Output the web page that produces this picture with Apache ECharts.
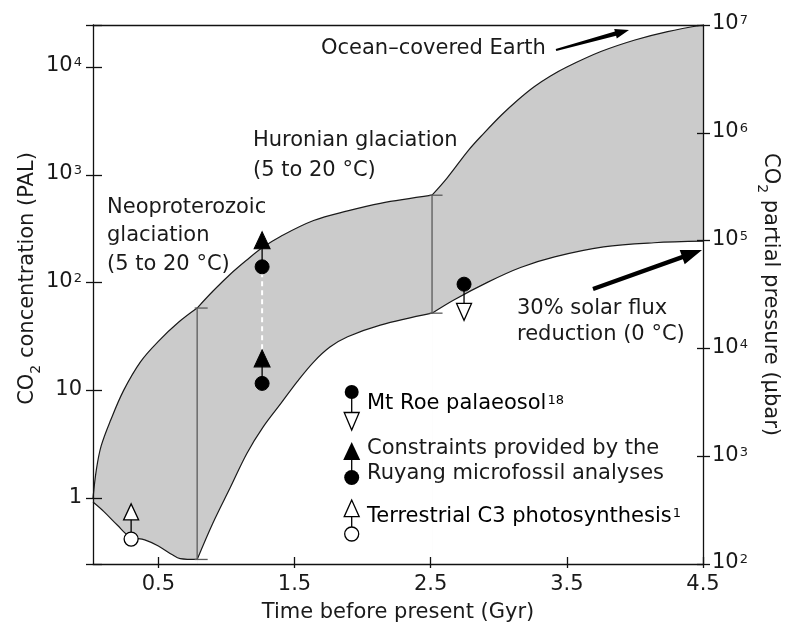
<!DOCTYPE html>
<html>
<head>
<meta charset="utf-8">
<script src="https://cdn.jsdelivr.net/npm/echarts@6/dist/echarts.min.js"></script>
<style>html,body{margin:0;padding:0;background:#fff}#c{width:787px;height:635px}</style>
</head>
<body>
<div id="c"></div>
<script>
// ---------- data ----------
const xTicks = [0.5, 1.5, 2.5, 3.5, 4.5];
const leftTickValues = [1, 10, 100, 1000, 10000];
const leftTickLabels = ['1', '10', '10^2', '10^3', '10^4'];
const rightTickValues = [1e2, 1e3, 1e4, 1e5, 1e6, 1e7];
const rightTickLabels = ['10^2', '10^3', '10^4', '10^5', '10^6', '10^7'];

// upper boundary of the CO2 band (PAL), three segments
const upper1X = [0.02, 0.045, 0.08, 0.15, 0.245, 0.37, 0.5, 0.65, 0.785];
const upper1Y = [1.0, 1.85, 3.05, 5.3, 10, 18.5, 28.5, 43, 58];
const upper2X = [0.785, 0.9, 1.03, 1.15, 1.26, 1.4, 1.64, 1.89, 2.13, 2.51];
const upper2Y = [58, 83, 120, 162, 209, 269, 376, 462, 543, 646];
const upper3X = [2.51, 2.62, 2.78, 2.89, 3.02, 3.14, 3.26, 3.38, 3.5, 3.75, 4.0, 4.24, 4.5];
const upper3Y = [646, 930, 1700, 2420, 3580, 4940, 6560, 8250, 10000, 13900, 17800, 21300, 24500];
// lower boundary
const lower1X = [0.02, 0.1, 0.2, 0.29, 0.4, 0.5, 0.6, 0.66, 0.785];
const lower1Y = [0.92, 0.75, 0.56, 0.44, 0.41, 0.36, 0.3, 0.275, 0.27];
const lower2X = [0.785, 0.9, 1.03, 1.15, 1.27, 1.4, 1.52, 1.64, 1.76, 1.89, 2.13, 2.51];
const lower2Y = [0.27, 0.586, 1.27, 2.6, 4.58, 7.56, 12.05, 18.3, 25.2, 31.4, 40.3, 52];
const lower3X = [2.51, 2.67, 2.92, 3.16, 3.41, 3.77, 4.14, 4.5];
const lower3Y = [52, 69, 101, 138, 173, 214, 234, 242];

// glaciation constraints (vertical bars)
const neoX = 0.785, neoRange = [0.27, 58];
const huronX = 2.51, huronRange = [52, 646];

// point constraints
const c3X = 0.30, c3Circle = 0.417, c3Triangle = 0.746;
const ruyangX = 1.262;
const ruyangUpper = [140, 247];   // circle, triangle
const ruyangLower = [11.6, 19.8]; // circle, triangle
const roeX = 2.745, roeCircle = 96.6, roeTriangle = 53.5;

// ---------- styling ----------
const FONT = "'DejaVu Sans', sans-serif";
const TXT = '#1a1a1a';
const FS = 21;
const rich = {
  n: {fontSize: FS, fontFamily: FONT, color: TXT, lineHeight: FS + 2, verticalAlign: 'top'},
  sup: {fontSize: 13, fontFamily: FONT, color: TXT, lineHeight: 13, verticalAlign: 'top', padding: [1, 0, 0, 1]},
  sub: {fontSize: 14, fontFamily: FONT, color: TXT, lineHeight: 14, verticalAlign: 'top', padding: [12, 0, 0, 0]}
};
function toRich(s) {
  const parts = s.split('^');
  return '{n|' + parts[0] + '}' + (parts[1] ? '{sup|' + parts[1] + '}' : '');
}
function labelFor(values, labels) {
  return function (v) {
    const i = values.findIndex(t => Math.abs(Math.log10(v) - Math.log10(t)) < 1e-6);
    return i < 0 ? '' : toRich(labels[i]);
  };
}
function curve(xs, ys, fill, z) {
  return {
    type: 'line', data: xs.map((x, i) => [x, ys[i]]), smooth: 0.35,
    showSymbol: false, symbol: 'none', silent: true, z: z,
    lineStyle: {color: '#1a1a1a', width: 1.2},
    areaStyle: {color: fill, opacity: 1, origin: 'start'}
  };
}
function bar(x, range) {
  return {
    type: 'line', data: [[x, range[0]], [x, range[1]]], z: 3, silent: true,
    lineStyle: {color: '#5a5a5a', width: 1.3},
    symbol: 'path://M0,0H10V1H0Z', symbolSize: [13, 1.3], symbolOffset: [4, 0], showSymbol: true,
    itemStyle: {color: '#5a5a5a'}
  };
}
const OPEN = {color: '#fff', borderColor: '#000', borderWidth: 1.3};
const FILL = {color: '#000', borderColor: '#000', borderWidth: 1};
function pair(x, a, b, z) {
  return {
    type: 'line', z: z || 5, silent: true,
    lineStyle: {color: '#000', width: 1.3},
    data: [
      {value: [x, a.v], symbol: a.s, symbolSize: a.size, symbolRotate: a.rot || 0, itemStyle: a.style},
      {value: [x, b.v], symbol: b.s, symbolSize: b.size, symbolRotate: b.rot || 0, itemStyle: b.style}
    ]
  };
}

const xBase = {type: 'value', min: 0.02, max: 4.5, splitLine: {show: false}, z: 10};
const yLeftBase = {type: 'log', logBase: 10, min: 0.245, max: 24500, splitLine: {show: false}, z: 10};
const yRightBase = {type: 'log', logBase: 10, min: 100, max: 1e7, splitLine: {show: false}, z: 10};
const AX = {show: true, lineStyle: {color: '#111', width: 1.3}};
const TF = FS + 'px ' + FONT;

const graphics = [
  // annotation texts
  {type: 'text', left: 321, top: 38, style: {text: 'Ocean–covered Earth', font: TF, fill: TXT}},
  {type: 'text', left: 253, top: 126, style: {text: 'Huronian glaciation\n(5 to 20 °C)', font: TF, fill: TXT, lineHeight: 30}},
  {type: 'text', left: 107, top: 193, style: {text: 'Neoproterozoic\nglaciation\n(5 to 20 °C)', font: TF, fill: TXT, lineHeight: 28.5}},
  {type: 'text', left: 517, top: 295, style: {text: '30% solar flux\nreduction (0 °C)', font: TF, fill: TXT, lineHeight: 26.5}},
  // arrows
  {type: 'polygon', shape: {points: [[556.3, 51], [616.1, 35.8], [616.8, 38.5], [629, 30], [614.2, 28.9], [614.9, 31.6], [555.7, 49]]}, style: {fill: '#000'}},
  {type: 'polygon', shape: {points: [[593.7, 291.1], [682.9, 259.2], [684.7, 264.2], [702, 250], [679.7, 250], [681.5, 255], [592.3, 286.9]]}, style: {fill: '#000'}},
  // legend glyphs
  {type: 'line', shape: {x1: 351.7, y1: 392, x2: 351.7, y2: 413}, style: {stroke: '#000', lineWidth: 1.3}},
  {type: 'circle', shape: {cx: 351.7, cy: 392, r: 7}, style: {fill: '#000'}},
  {type: 'polygon', shape: {points: [[344.2, 412.5], [359.2, 412.5], [351.7, 430]]}, style: {fill: '#fff', stroke: '#000', lineWidth: 1.3}},
  {type: 'line', shape: {x1: 351.7, y1: 455, x2: 351.7, y2: 477}, style: {stroke: '#000', lineWidth: 1.3}},
  {type: 'polygon', shape: {points: [[351.7, 442], [343.2, 460], [360.2, 460]]}, style: {fill: '#000'}},
  {type: 'circle', shape: {cx: 351.7, cy: 477.5, r: 7.5}, style: {fill: '#000'}},
  {type: 'line', shape: {x1: 351.7, y1: 516.7, x2: 351.7, y2: 527}, style: {stroke: '#000', lineWidth: 1.3}},
  {type: 'polygon', shape: {points: [[351.7, 500], [344.2, 516.7], [359.2, 516.7]]}, style: {fill: '#fff', stroke: '#000', lineWidth: 1.3}},
  {type: 'circle', shape: {cx: 351.7, cy: 534, r: 7}, style: {fill: '#fff', stroke: '#000', lineWidth: 1.3}},
  // legend texts
  {type: 'text', left: 367, top: 393, style: {text: '{n|Mt Roe palaeosol}{sup|18}', rich: rich}},
  {type: 'text', left: 367, top: 436, style: {text: 'Constraints provided by the\nRuyang microfossil analyses', font: TF, fill: TXT, lineHeight: 25}},
  {type: 'text', left: 367, top: 506, style: {text: '{n|Terrestrial C3 photosynthesis}{sup|1}', rich: rich}}
].map(g => Object.assign({z: 100}, g));

const option = {
  animation: false,
  backgroundColor: '#fff',
  grid: {left: 93, right: 84, top: 25, bottom: 71, outerBoundsMode: 'none', containLabel: false},
  xAxis: [
    Object.assign({}, xBase, {
      position: 'bottom', axisLine: AX,
      axisTick: {customValues: xTicks, length: 4, lineStyle: {color: '#111', width: 1.3}},
      axisLabel: {customValues: xTicks, formatter: v => v.toFixed(1), fontSize: FS, fontFamily: FONT, color: TXT, margin: 10},
      name: 'Time before present (Gyr)', nameLocation: 'middle', nameGap: 38, nameMoveOverlap: false,
      nameTextStyle: {fontSize: FS, fontFamily: FONT, color: TXT}
    }),
    Object.assign({}, xBase, {
      position: 'bottom', axisLine: {show: false},
      axisTick: {customValues: xTicks, inside: true, length: 7, lineStyle: {color: '#111', width: 1.3}},
      axisLabel: {show: false}
    }),
    Object.assign({}, xBase, {
      position: 'top', axisLine: AX, axisTick: {show: false}, axisLabel: {show: false}
    })
  ],
  yAxis: [
    Object.assign({}, yLeftBase, {
      position: 'left', axisLine: AX,
      axisTick: {length: 7, lineStyle: {color: '#111', width: 1.3}},
      axisLabel: {formatter: labelFor(leftTickValues, leftTickLabels), rich: rich, margin: 11, align: 'right'},
      name: '{n|CO}{sub|2}{n| concentration (PAL)}', nameLocation: 'middle', nameGap: 53, nameRotate: 90,
      nameMoveOverlap: false,
      nameTextStyle: {rich: rich, padding: [0, 0, 0, 32]}
    }),
    Object.assign({}, yRightBase, {
      position: 'right', axisLine: AX,
      axisTick: {length: 7, lineStyle: {color: '#111', width: 1.3}},
      axisLabel: {formatter: labelFor(rightTickValues, rightTickLabels), rich: rich, margin: 9, align: 'left'},
      name: '{n|CO}{sub|2}{n| partial pressure (µbar)}', nameLocation: 'middle', nameGap: 55, nameRotate: -90,
      nameMoveOverlap: false,
      nameTextStyle: {rich: rich}
    }),
    Object.assign({}, yLeftBase, {
      position: 'left', axisLine: {show: false},
      axisTick: {inside: true, length: 9, lineStyle: {color: '#111', width: 1.3}},
      axisLabel: {show: false}
    }),
    Object.assign({}, yRightBase, {
      position: 'right', axisLine: {show: false},
      axisTick: {inside: true, length: 6, lineStyle: {color: '#111', width: 1.3}},
      axisLabel: {show: false}
    })
  ],
  series: [
    curve(upper1X, upper1Y, '#cbcbcb', 1),
    curve(upper2X, upper2Y, '#cbcbcb', 1),
    curve(upper3X, upper3Y, '#cbcbcb', 1),
    curve(lower1X, lower1Y, '#ffffff', 2),
    curve(lower2X, lower2Y, '#ffffff', 2),
    curve(lower3X, lower3Y, '#ffffff', 2),
    bar(neoX, neoRange),
    bar(huronX, huronRange),
    {
      type: 'line', z: 4, silent: true, symbol: 'none',
      data: [[ruyangX, ruyangLower[1]], [ruyangX, ruyangUpper[0]]],
      lineStyle: {color: '#ffffff', width: 2, type: [5, 4]}
    },
    pair(c3X, {v: c3Circle, s: 'circle', size: 14, style: OPEN}, {v: c3Triangle, s: 'triangle', size: [15, 16], style: OPEN}),
    pair(ruyangX, {v: ruyangUpper[0], s: 'circle', size: 14, style: FILL}, {v: ruyangUpper[1], s: 'triangle', size: [16, 17], style: FILL}),
    pair(ruyangX, {v: ruyangLower[0], s: 'circle', size: 14, style: FILL}, {v: ruyangLower[1], s: 'triangle', size: [16, 17], style: FILL}),
    pair(roeX, {v: roeCircle, s: 'circle', size: 14, style: FILL}, {v: roeTriangle, s: 'triangle', size: [15, 17], rot: 180, style: OPEN})
  ],
  graphic: {elements: graphics}
};
const chart = echarts.init(document.getElementById('c'), null, {renderer: 'canvas'});
chart.setOption(option);
</script>
</body>
</html>
